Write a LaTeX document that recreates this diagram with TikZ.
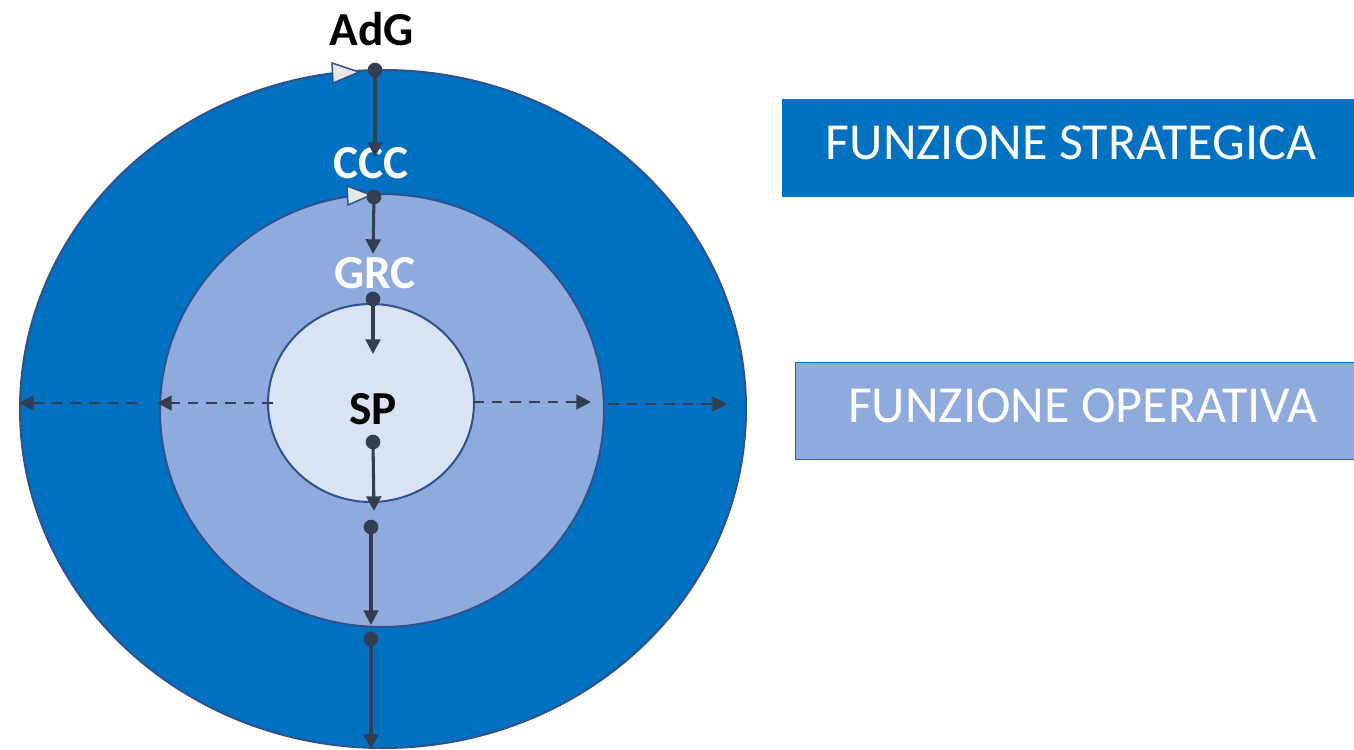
\documentclass[tikz,border=0pt]{standalone}
\usepackage{fontspec}
\setmainfont{Carlito}
\usetikzlibrary{arrows.meta}
\definecolor{cOuter}{HTML}{0070C0}
\definecolor{cMid}{HTML}{8FAADC}
\definecolor{cIn}{HTML}{DAE3F3}
\definecolor{cEdge}{HTML}{2F528F}
\definecolor{cArr}{HTML}{333F50}
\definecolor{cTri}{HTML}{E7E6E6}
\tikzset{
  ring/.style={draw=cEdge, line width=1.5pt},
  flow/.style={draw=cArr, line width=2.3pt, -{Triangle[length=11pt,width=11pt]}},
  dflow/.style={draw=cArr, line width=1.9pt, dash pattern=on 8pt off 6pt, -{Triangle[length=11pt,width=11pt]}},
  dotc/.style={circle, fill=cArr, inner sep=0pt, minimum size=11pt},
  lbl/.style={font=\fontsize{35.5}{38}\selectfont\bfseries, inner sep=0pt},
  tri/.style={fill=cTri, draw=cEdge, line width=1.1pt, line join=miter},
  boxlbl/.style={font=\fontsize{39}{42}\selectfont, text=white, inner sep=0pt}
}
\begin{document}
\begin{tikzpicture}[x=0.75pt,y=-0.75pt]
\useasboundingbox (0,0) rectangle (1354,750);
\begin{scope}
\clip (0,0) rectangle (1354,750);
% rings
\fill[ring, fill=cOuter] (383,409) ellipse [x radius=363, y radius=339];
\fill[ring, fill=cMid] (382,410.5) ellipse [x radius=222, y radius=216.5];
\fill[ring, fill=cIn] (371,403) ellipse [x radius=103, y radius=99];

% boxes
\node[fill=cOuter, minimum width=580*0.75pt, minimum height=98*0.75pt, anchor=north west, inner sep=0pt] (strat) at (782,99) {};
\node[boxlbl] (stratt) at (1071,143) {FUNZIONE STRATEGICA};
\node[fill=cMid, draw=cOuter, line width=1pt, minimum width=580*0.75pt, minimum height=97*0.75pt, anchor=north west, inner sep=0pt] (oper) at (795,362) {};
\node[boxlbl] (opert) at (1083,406) {FUNZIONE OPERATIVA};

% labels
\node[lbl, text=black] (adg) at (372,29) {AdG};
\node[lbl, text=white] (ccc) at (371,163) {CCC};
\node[lbl, text=white] (grc) at (375,273) {GRC};
\node[lbl, text=black] (sp) at (373,409) {SP};

% small triangles
\draw[tri] (332,63) -- (359,72) -- (333,83) -- cycle;
\draw[tri] (347,186) -- (371,195) -- (348,205) -- cycle;

% vertical connectors
\coordinate (a1) at (375,70);  \coordinate (b1) at (375,157);
\coordinate (a2) at (374,197); \coordinate (b2) at (373,254);
\coordinate (a3) at (373,299); \coordinate (b3) at (373,354);
\coordinate (a4) at (373,442); \coordinate (b4) at (374,511);
\coordinate (a5) at (371,527); \coordinate (b5) at (371,625);
\coordinate (a6) at (371,639); \coordinate (b6) at (371,749);
\foreach \i in {1,...,6}{
  \draw[flow] (a\i) -- (b\i);
  \node[dotc] at (a\i) {};
}

% dashed connectors
\coordinate (l1s) at (137,403); \coordinate (l1e) at (19,403);
\coordinate (l2s) at (273,403); \coordinate (l2e) at (157,403);
\coordinate (r1s) at (473,402); \coordinate (r1e) at (591,402);
\coordinate (r2s) at (608,404); \coordinate (r2e) at (727,404);
\draw[dflow] (l1s) -- (l1e);
\draw[dflow] (l2s) -- (l2e);
\draw[dflow] (r1s) -- (r1e);
\draw[dflow] (r2s) -- (r2e);
\end{scope}
\end{tikzpicture}
\end{document}
